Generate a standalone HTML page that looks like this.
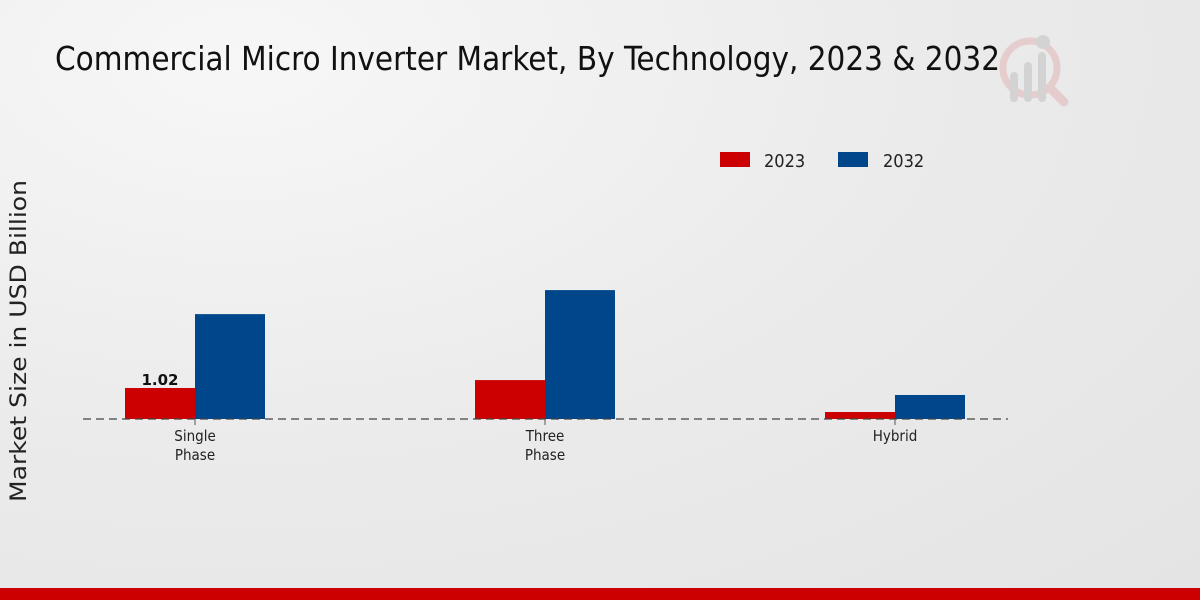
<!DOCTYPE html>
<html><head><meta charset="utf-8">
<style>
html,body{margin:0;padding:0;width:1200px;height:600px;overflow:hidden}
body{background:radial-gradient(ellipse at 20% 10%,#f7f7f7 0%,#ebebeb 50%,#e4e4e4 100%);font-family:"DejaVu Sans Condensed","DejaVu Sans","Liberation Sans",sans-serif}
</style></head>
<body>
<svg id="chart" width="1200" height="600" xmlns="http://www.w3.org/2000/svg" style="position:absolute;left:0;top:0">
  <text x="55" y="70" font-size="33" fill="#111" font-family="DejaVu Sans Condensed, DejaVu Sans, sans-serif" textLength="945" lengthAdjust="spacingAndGlyphs">Commercial Micro Inverter Market, By Technology, 2023 &amp; 2032</text>
  <g opacity="0.35">
    <circle cx="1030" cy="68" r="27" fill="none" stroke="#d99" stroke-width="7"/>
    <line x1="1050" y1="88" x2="1064" y2="102" stroke="#d99" stroke-width="9" stroke-linecap="round"/>
    <rect x="1010" y="72" width="8" height="30" rx="4" fill="#aaa"/>
    <rect x="1024" y="62" width="8" height="40" rx="4" fill="#aaa"/>
    <rect x="1038" y="52" width="8" height="50" rx="4" fill="#aaa"/>
    <circle cx="1043" cy="42" r="7" fill="#aaa"/>
  </g>
  <text transform="translate(26,341) rotate(-90)" text-anchor="middle" font-size="22" fill="#222" font-family="DejaVu Sans, sans-serif" textLength="322" lengthAdjust="spacingAndGlyphs">Market Size in USD Billion</text>
  <g>
    <rect x="720" y="152" width="30" height="15" fill="#cc0000"/>
    <text x="764" y="167" font-size="18" fill="#222">2023</text>
    <rect x="838" y="152" width="30" height="15" fill="#00468b"/>
    <text x="883" y="167" font-size="18" fill="#222">2032</text>
  </g>
  <g id="bars"></g>
  <line x1="83" y1="419" x2="1008" y2="419" stroke="#444" stroke-width="1.2" stroke-dasharray="8,5"/>
  <g id="xlabels"></g>
  <rect x="0" y="588" width="1200" height="12" fill="#cc0000"/>
</svg>
<script>
const categories = [["Single","Phase"],["Three","Phase"],["Hybrid"]];
const values2023 = [1.02, 1.28, 0.23];
const values2032 = [3.45, 4.24, 0.79];
const labels2023 = ["1.02", "", ""];

const NS="http://www.w3.org/2000/svg";
const baseY=419, pxPerUnit=30.4, x0=195, step=350, bw=70;
const yScale=v=>baseY-v*pxPerUnit;
const xCenter=i=>x0+i*step;
const bars=document.getElementById('bars');
const xl=document.getElementById('xlabels');
function mk(tag,attrs){const e=document.createElementNS(NS,tag);for(const k in attrs)e.setAttribute(k,attrs[k]);return e;}
categories.forEach((c,i)=>{
  const cx=xCenter(i);
  const r1=mk('rect',{x:cx-bw,y:yScale(values2023[i]),width:bw,height:baseY-yScale(values2023[i]),fill:'#cc0000'});
  
  
  bars.appendChild(r1);
  const r2=mk('rect',{x:cx,y:yScale(values2032[i]),width:bw,height:baseY-yScale(values2032[i]),fill:'#00468b'});
  
  
  bars.appendChild(r2);
  if(labels2023[i]){
    const t=mk('text',{x:cx-bw/2,y:yScale(values2023[i])-3,'text-anchor':'middle','font-size':'15','font-weight':'bold',fill:'#111','font-family':'DejaVu Sans, sans-serif'});
    t.textContent=labels2023[i];
    
    
    bars.appendChild(t);
  }
  const tick=mk('line',{x1:cx,y1:419,x2:cx,y2:425,stroke:'#555'});
  
  
  xl.appendChild(tick);
  c.forEach((line,j)=>{
    const t=mk('text',{x:cx,y:441+j*19,'text-anchor':'middle','font-size':'15',fill:'#222'});
    t.textContent=line;
    
    
    xl.appendChild(t);
  });
});
</script>
</body></html>
